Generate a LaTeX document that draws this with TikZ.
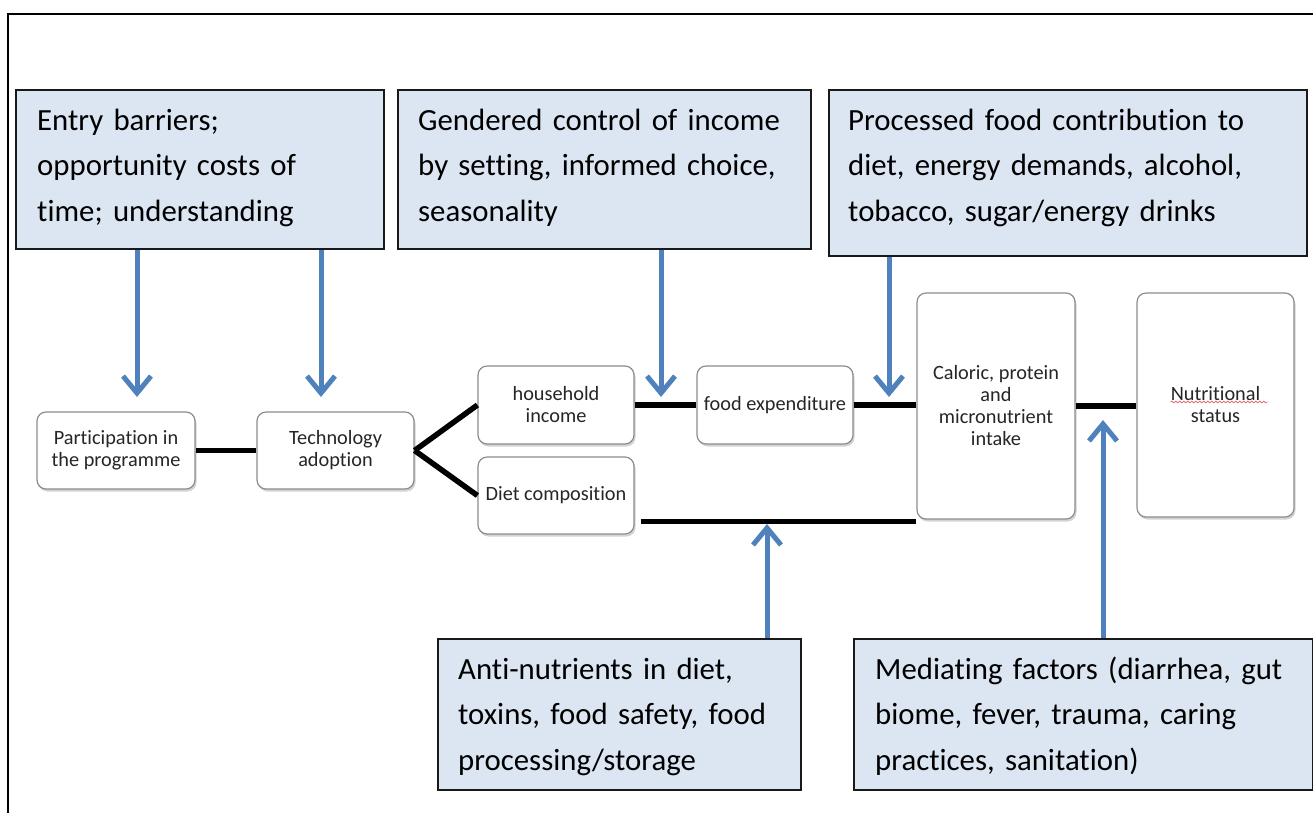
\documentclass[tikz,border=0pt]{standalone}
\usepackage{fontspec}
\setmainfont{Carlito}[Ligatures={NoCommon}]
\usetikzlibrary{arrows.meta,shadows,calc,decorations.pathmorphing}
\definecolor{calloutfill}{HTML}{DCE6F2}
\definecolor{arrowblue}{HTML}{4F81BD}
\definecolor{nodegray}{HTML}{8C8C8C}
\definecolor{nodetext}{HTML}{262626}
\definecolor{spellred}{HTML}{E57373}
\begin{document}
\begin{tikzpicture}[x=1pt,y=-1pt,
  frameline/.style={line width=2pt, black},
  callout/.style={draw=black!90, line width=1.6pt, fill=calloutfill, anchor=north west, inner sep=0pt},
  ctext/.style={anchor=base west, align=left, inner sep=0pt, text width=470pt, font=\fontsize{30.8}{45.5}\selectfont},
  flow/.style={draw=nodegray, line width=1.2pt, fill=white, rounded corners=9pt, inner sep=0pt, align=center, text=nodetext, font=\fontsize{20.3}{22}\selectfont, drop shadow={shadow xshift=1.5pt, shadow yshift=-2.5pt, opacity=0.35, fill=black!50}},
  link/.style={line width=5.5pt, black},
  influence/.style={line width=5pt, arrowblue, -{Straight Barb[length=17pt,width=28pt]}},
  squiggle/.style={spellred, line width=0.8pt, decorate, decoration={snake, amplitude=0.9pt, segment length=4pt}}]
\useasboundingbox (0,0) rectangle (1313,812);
% outer frame
\coordinate (fbl) at (8,820);
\coordinate (ftl) at (8,14);
\coordinate (ftr) at (1320,14);
\draw[frameline] (fbl) -- (ftl) -- (ftr);

% callouts
\node[callout, minimum width=368pt, minimum height=159pt] (c1) at (15,89) {};
\node[callout, minimum width=413pt, minimum height=159pt] (c2) at (397,89) {};
\node[callout, minimum width=478pt, minimum height=166pt] (c3) at (828,89) {};
\node[callout, minimum width=363pt, minimum height=151pt] (c4) at (437,638) {};
\node[callout, minimum width=459pt, minimum height=151pt] (c5) at (853,638) {};

\node[ctext] (c1t) at ($(c1.north west)+(22,41)$) {Entry barriers;\\opportunity costs of\\time; understanding};
\node[ctext] (c2t) at ($(c2.north west)+(21,41)$) {Gendered control of income\\by setting, informed choice,\\seasonality};
\node[ctext] (c3t) at ($(c3.north west)+(20,41)$) {Processed food contribution to\\diet, energy demands, alcohol,\\tobacco, sugar/energy drinks};
\node[ctext] (c4t) at ($(c4.north west)+(21,41)$) {Anti-nutrients in diet,\\toxins, food safety, food\\processing/storage};
\node[ctext] (c5t) at ($(c5.north west)+(22,41)$) {Mediating factors (diarrhea, gut\\biome, fever, trauma, caring\\practices, sanitation)};

% flow nodes
\node[flow, minimum width=158pt, minimum height=77pt] (part) at (116,450.5) {Participation in\\the programme};
\node[flow, minimum width=157pt, minimum height=77pt] (tech) at (335.5,450.5) {Technology\\adoption};
\node[flow, minimum width=156pt, minimum height=78pt] (house) at (556,405) {household\\income};
\node[flow, minimum width=156pt, minimum height=77pt] (diet) at (556,495.5) {Diet composition};
\node[flow, minimum width=156pt, minimum height=78pt] (food) at (775,405) {food expenditure};
\node[flow, minimum width=158pt, minimum height=226pt] (cal) at (996,406) {Caloric, protein\\and\\micronutrient\\intake};
\node[flow, minimum width=157pt, minimum height=224pt] (nut) at (1215.5,405) {Nutritional\\status};
\draw[squiggle] ($(nut.center)+(-45,-3)$) coordinate (sq1) -- ($(nut.center)+(52,-3)$) coordinate (sq2);

% connectors
\draw[link] (part.east) -- (tech.west);
\draw[link] (tech.east) -- (house.west);
\draw[link] (tech.east) -- (diet.west);
\draw[link] (house.east) -- (food.west);
\draw[link] (food.east) -- (food.east -| cal.west);
\draw[link] (cal.east) -- (cal.east -| nut.west);
\coordinate (dl) at ($(diet.south east)+(6,-13)$);
\draw[link] (dl) -- (dl -| cal.west);

% influence arrows
\coordinate (t1) at (137,397);
\coordinate (t2) at (321,397);
\coordinate (t3) at (661,397);
\coordinate (t4) at (889,397);
\coordinate (t5) at (767,524);
\coordinate (t6) at (1103,420);
\draw[influence] (c1.south -| t1) -- (t1);
\draw[influence] (c1.south -| t2) -- (t2);
\draw[influence] (c2.south -| t3) -- (t3);
\draw[influence] (c3.south -| t4) -- (t4);
\draw[influence] (c4.north -| t5) -- (t5);
\draw[influence] (c5.north -| t6) -- (t6);
\end{tikzpicture}
\end{document}
